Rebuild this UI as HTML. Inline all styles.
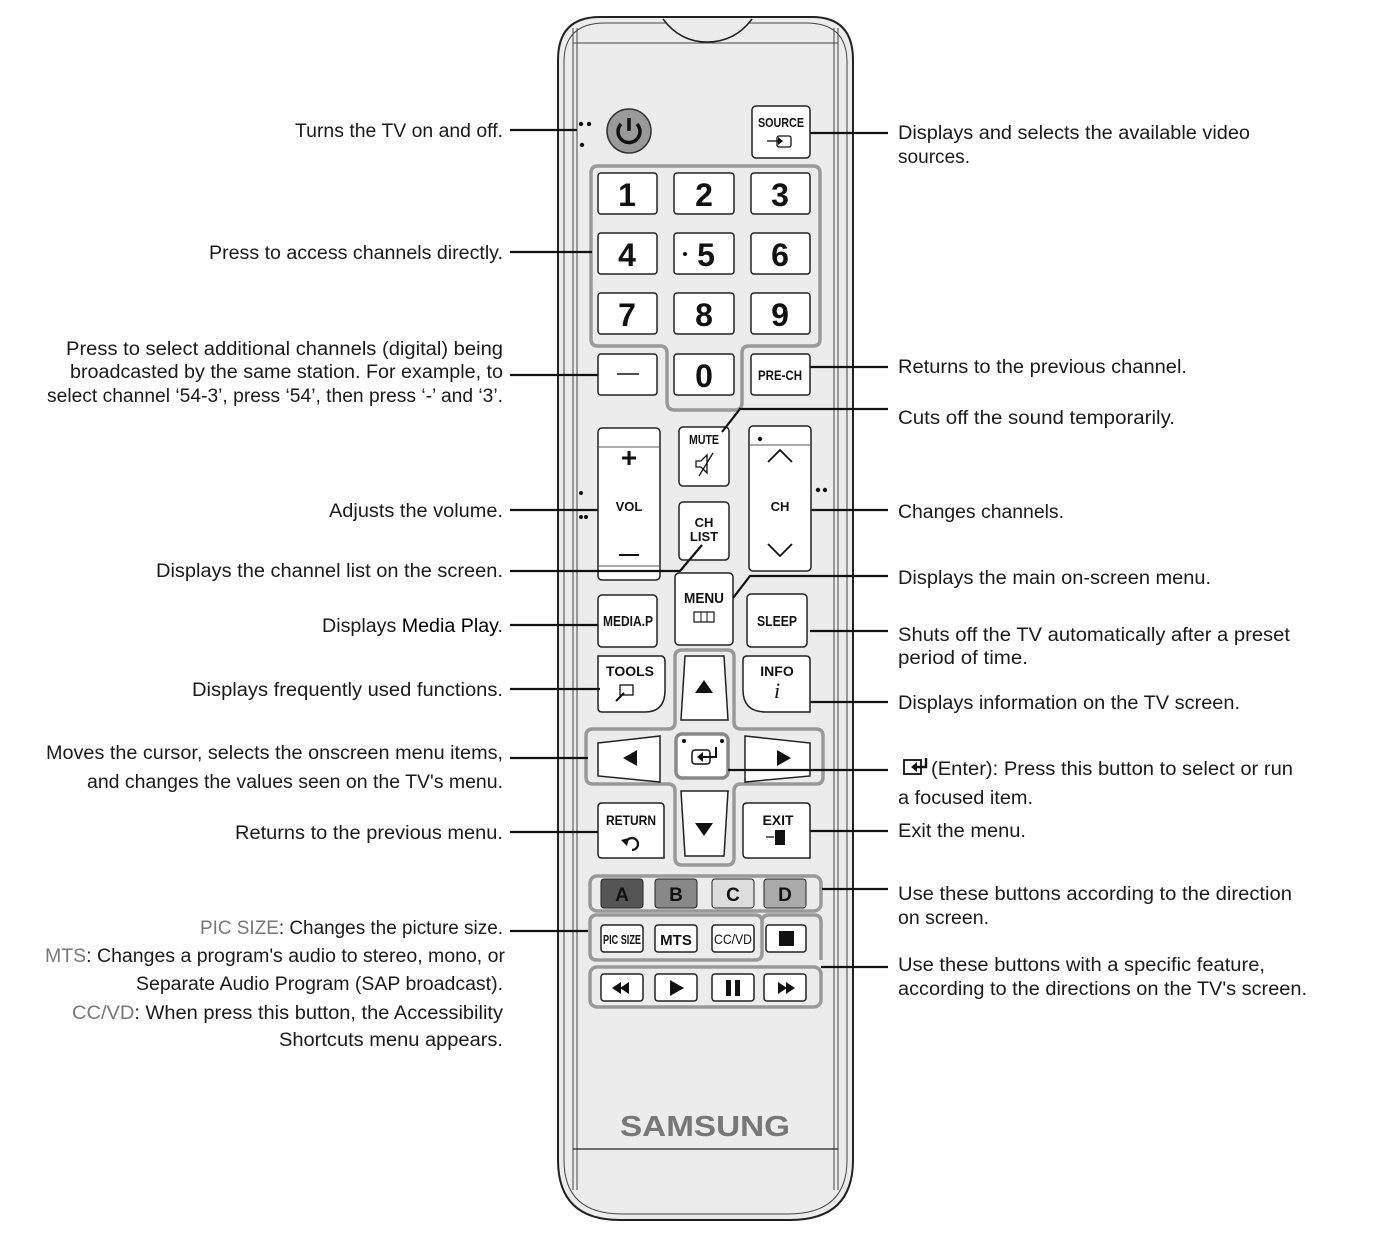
<!DOCTYPE html>
<html><head><meta charset="utf-8"><style>
html,body{margin:0;padding:0;background:#fff;width:1390px;height:1244px;overflow:hidden}
svg{display:block}
.t{font-family:"Liberation Sans",sans-serif;font-size:19px;fill:#1a1a1a}
.g{fill:#777}
.b{font-family:"Liberation Sans",sans-serif;font-weight:bold;fill:#111;text-anchor:middle}
.btn{fill:#fff;stroke:#222;stroke-width:1.5}
.grp{fill:none;stroke:#999;stroke-width:3.5}
.ln{stroke:#111;stroke-width:2.2;fill:none}
</style></head><body>
<svg width="1390" height="1244" viewBox="0 0 1390 1244" xmlns="http://www.w3.org/2000/svg">
<!-- remote body -->
<path d="M600 17 H812 Q853 17 853 60 V1160 Q853 1220 790 1220 H620 Q558 1220 558 1160 V60 Q558 17 600 17 Z" fill="#ececec" stroke="#222" stroke-width="2"/>
<path d="M605 23 H806 Q847 23 847 62 V1160 Q847 1214 788 1214 H622 Q564 1214 564 1160 V62 Q564 23 605 23 Z" fill="none" stroke="#444" stroke-width="1"/>
<line x1="573" y1="28" x2="573" y2="1190" stroke="#444" stroke-width="1"/>
<line x1="577" y1="28" x2="577" y2="1190" stroke="#444" stroke-width="1"/>
<line x1="834" y1="28" x2="834" y2="1190" stroke="#444" stroke-width="1"/>
<line x1="838" y1="28" x2="838" y2="1190" stroke="#444" stroke-width="1"/>
<line x1="573" y1="43" x2="838" y2="43" stroke="#444" stroke-width="1"/>
<line x1="573" y1="1149" x2="838" y2="1149" stroke="#222" stroke-width="1.2"/>
<path d="M663 19 Q680 42 707 42 Q735 42 752 19" fill="#ececec" stroke="#222" stroke-width="1.5"/>

<!-- power -->
<circle cx="629" cy="131" r="22" fill="#9a9a9a" stroke="#333" stroke-width="1.5"/>
<path d="M621 124 A11 11 0 1 0 637 124" fill="none" stroke="#111" stroke-width="3.5"/>
<line x1="629" y1="118" x2="629" y2="131" stroke="#111" stroke-width="3.5"/>
<circle cx="581" cy="124" r="2.2" fill="#111"/><circle cx="589" cy="124" r="2.2" fill="#111"/><circle cx="582" cy="145" r="2.2" fill="#111"/>
<!-- source -->
<rect class="btn" x="752" y="106" width="58" height="52" rx="4"/>
<text class="b" x="781" y="127" font-size="13" textLength="46" lengthAdjust="spacingAndGlyphs">SOURCE</text>
<rect x="777" y="136" width="14" height="11" rx="2" fill="none" stroke="#111" stroke-width="1.3"/>
<line x1="767" y1="141" x2="782" y2="141" stroke="#111" stroke-width="1.3"/><path d="M778 137 L783 141 L778 145Z" fill="#111"/>

<!-- number group -->
<path class="grp" d="M598 166 H813 Q820 166 820 173 V339 Q820 346 813 346 H749 Q742 346 742 353 V402 Q742 410 735 410 H675 Q667 410 667 402 V353 Q667 346 660 346 H598 Q591 346 591 339 V173 Q591 166 598 166 Z"/>
<g font-size="32">
<rect class="btn" x="598" y="173" width="59" height="41" rx="3"/><text class="b" x="627" y="206">1</text>
<rect class="btn" x="674" y="173" width="60" height="41" rx="3"/><text class="b" x="704" y="206">2</text>
<rect class="btn" x="751" y="173" width="59" height="41" rx="3"/><text class="b" x="780" y="206">3</text>
<rect class="btn" x="598" y="233" width="59" height="41" rx="3"/><text class="b" x="627" y="266">4</text>
<rect class="btn" x="674" y="233" width="60" height="41" rx="3"/><text class="b" x="706" y="266">5</text><circle cx="685" cy="254" r="2" fill="#111"/>
<rect class="btn" x="751" y="233" width="59" height="41" rx="3"/><text class="b" x="780" y="266">6</text>
<rect class="btn" x="598" y="293" width="59" height="41" rx="3"/><text class="b" x="627" y="326">7</text>
<rect class="btn" x="674" y="293" width="60" height="41" rx="3"/><text class="b" x="704" y="326">8</text>
<rect class="btn" x="751" y="293" width="59" height="41" rx="3"/><text class="b" x="780" y="326">9</text>
<rect class="btn" x="598" y="354" width="59" height="41" rx="3"/><line x1="617" y1="374" x2="639" y2="374" stroke="#111" stroke-width="1.5"/>
<rect class="btn" x="674" y="354" width="60" height="41" rx="3"/><text class="b" x="704" y="387">0</text>
<rect class="btn" x="751" y="354" width="59" height="41" rx="3"/><text class="b" x="780" y="380" font-size="14" textLength="44" lengthAdjust="spacingAndGlyphs">PRE-CH</text>
</g>

<!-- VOL / MUTE / CH LIST / CH -->
<rect class="btn" x="598" y="428" width="62" height="152" rx="4"/>
<line x1="598" y1="447" x2="660" y2="447" stroke="#555" stroke-width="1"/>
<line x1="598" y1="566" x2="660" y2="566" stroke="#555" stroke-width="1"/>
<text class="b" x="629" y="467" font-size="28" font-weight="normal">+</text>
<line x1="619" y1="555" x2="639" y2="555" stroke="#111" stroke-width="2"/>
<text class="b" x="629" y="511" font-size="13">VOL</text>
<circle cx="581" cy="493" r="2" fill="#111"/><circle cx="581" cy="517" r="2" fill="#111"/><circle cx="586" cy="517" r="2" fill="#111"/>
<rect class="btn" x="679" y="427" width="50" height="59" rx="4"/>
<text class="b" x="704" y="444" font-size="13" textLength="30" lengthAdjust="spacingAndGlyphs">MUTE</text>
<path d="M696 461 h5 l6 -6 v18 l-6 -6 h-5z M713 453 L699 476" fill="none" stroke="#111" stroke-width="1.3"/>
<rect class="btn" x="679" y="502" width="50" height="58" rx="4"/>
<text class="b" x="704" y="527" font-size="13">CH</text><text class="b" x="704" y="541" font-size="13">LIST</text>
<rect class="btn" x="749" y="426" width="62" height="145" rx="4"/>
<line x1="749" y1="445" x2="811" y2="445" stroke="#555" stroke-width="1"/>
<circle cx="760" cy="439" r="2.2" fill="#111"/>
<path d="M768 462 L780 450 L792 462 M768 544 L780 556 L792 544" fill="none" stroke="#111" stroke-width="1.8"/>
<text class="b" x="780" y="511" font-size="13" font-weight="normal">CH</text>
<circle cx="818" cy="490" r="2.2" fill="#111"/><circle cx="825" cy="490" r="2.2" fill="#111"/>

<!-- MENU row -->
<rect class="btn" x="675" y="573" width="58" height="72" rx="4"/>
<text class="b" x="704" y="603" font-size="15" textLength="40" lengthAdjust="spacingAndGlyphs">MENU</text>
<rect x="694" y="612" width="20" height="10" fill="none" stroke="#111" stroke-width="1.2"/><line x1="701" y1="612" x2="701" y2="622" stroke="#111"/><line x1="707" y1="612" x2="707" y2="622" stroke="#111"/>
<rect class="btn" x="598" y="595" width="59" height="52" rx="4"/>
<text class="b" x="628" y="626" font-size="15" textLength="50" lengthAdjust="spacingAndGlyphs">MEDIA.P</text>
<rect class="btn" x="747" y="594" width="60" height="53" rx="4"/>
<text class="b" x="777" y="626" font-size="15" textLength="40" lengthAdjust="spacingAndGlyphs">SLEEP</text>

<!-- D-pad group -->
<path class="grp" d="M682 650 H727 Q734 650 734 657 V722 Q734 729 741 729 H816 Q823 729 823 736 V777 Q823 784 816 784 H741 Q734 784 734 791 V858 Q734 865 727 865 H682 Q675 865 675 858 V791 Q675 784 668 784 H593 Q586 784 586 777 V736 Q586 729 593 729 H668 Q675 729 675 722 V657 Q675 650 682 650Z"/>
<path class="btn" d="M598 656 H661 Q665 656 665 662 V690 Q665 712 645 712 H602 Q598 712 598 708Z"/>
<text class="b" x="630" y="676" font-size="14">TOOLS</text>
<rect x="620" y="685" width="13" height="10" fill="none" stroke="#111" stroke-width="1.3"/><path d="M616 701 L624 693" stroke="#111" stroke-width="2"/>
<path class="btn" d="M747 656 H806 Q810 656 810 660 V712 H766 Q743 712 743 690 V660 Q743 656 747 656Z"/>
<text class="b" x="777" y="676" font-size="14">INFO</text>
<text x="777" y="698" font-family="Liberation Serif,serif" font-style="italic" font-size="22" text-anchor="middle" fill="#111">i</text>
<path class="btn" d="M685 656 H724 L728 720 H681 Z"/><path d="M695 693 L704 680 L713 693Z" fill="#111"/>
<path class="btn" d="M598 743 L660 736 V782 L598 776 Z"/><path d="M623 758 L637 750 V766Z" fill="#111"/>
<path class="btn" d="M745 736 L810 743 V776 L745 782 Z"/><path d="M791 758 L777 750 V766Z" fill="#111"/>
<rect x="676" y="734" width="52" height="44" rx="6" fill="#fff" stroke="#888" stroke-width="3.5"/>
<circle cx="684" cy="741" r="2" fill="#111"/><circle cx="722" cy="741" r="2" fill="#111"/>
<rect x="692" y="750" width="18" height="14" rx="3" fill="none" stroke="#111" stroke-width="1.5"/>
<path d="M716 747 V757 H700" fill="none" stroke="#111" stroke-width="2"/><path d="M697 757 L703 752 V762Z" fill="#111"/>
<path class="btn" d="M681 791 H728 L724 856 H685 Z"/><path d="M695 823 L704 836 L713 823Z" fill="#111"/>
<path class="btn" d="M602 803 H660 Q664 803 664 807 V858 H602 Q598 858 598 854 V807 Q598 803 602 803Z"/>
<text class="b" x="631" y="825" font-size="14" textLength="50" lengthAdjust="spacingAndGlyphs">RETURN</text>
<path d="M626 844 A6 6 0 1 1 632 850" fill="none" stroke="#111" stroke-width="2.2"/><path d="M621 840 L627 846 L629 838Z" fill="#111"/>
<path class="btn" d="M747 803 H806 Q810 803 810 807 V858 H747 Q743 858 743 854 V807 Q743 803 747 803Z"/>
<text class="b" x="778" y="825" font-size="14">EXIT</text>
<rect x="775" y="830" width="10" height="15" fill="#111"/><line x1="766" y1="837" x2="774" y2="837" stroke="#111" stroke-width="1.3"/>

<!-- ABCD -->
<rect class="grp" x="590" y="876" width="231" height="35" rx="7"/>
<rect x="601" y="879" width="42" height="29" rx="3" fill="#555" stroke="#222"/><text class="b" x="622" y="901" font-size="19">A</text>
<rect x="655" y="879" width="42" height="29" rx="3" fill="#888" stroke="#222"/><text class="b" x="676" y="901" font-size="19">B</text>
<rect x="712" y="879" width="42" height="29" rx="3" fill="#ddd" stroke="#222"/><text class="b" x="733" y="901" font-size="19">C</text>
<rect x="764" y="879" width="42" height="29" rx="3" fill="#aaa" stroke="#222"/><text class="b" x="785" y="901" font-size="19">D</text>
<!-- pic group -->
<path class="grp" d="M597 915 H755 Q762 915 762 922 V953 Q762 960 755 960 H597 Q590 960 590 953 V922 Q590 915 597 915Z"/>
<path class="grp" d="M762 922 Q762 915 769 915 H814 Q821 915 821 922 V960"/>
<rect class="btn" x="601" y="925" width="42" height="27" rx="3"/><text class="b" x="622" y="944" font-size="13" textLength="38" lengthAdjust="spacingAndGlyphs">PIC SIZE</text>
<rect class="btn" x="655" y="925" width="42" height="27" rx="3"/><text class="b" x="676" y="945" font-size="15">MTS</text>
<rect class="btn" x="712" y="925" width="42" height="27" rx="3"/><text x="733" y="944" font-family="Liberation Sans,sans-serif" font-size="14" text-anchor="middle" textLength="38" lengthAdjust="spacingAndGlyphs" fill="#111">CC/VD</text>
<rect class="btn" x="766" y="925" width="40" height="27" rx="3"/><rect x="779" y="931" width="15" height="15" fill="#111"/>
<rect class="grp" x="590" y="967" width="231" height="40" rx="7"/>
<rect class="btn" x="601" y="974" width="42" height="27" rx="3"/><path d="M612 988 L621 982 V994Z M620 988 L629 982 V994Z" fill="#111"/>
<rect class="btn" x="655" y="974" width="42" height="27" rx="3"/><path d="M670 980 L684 988 L670 996Z" fill="#111"/>
<rect class="btn" x="712" y="974" width="42" height="27" rx="3"/><rect x="726" y="980" width="5" height="16" fill="#111"/><rect x="735" y="980" width="5" height="16" fill="#111"/>
<rect class="btn" x="764" y="974" width="42" height="27" rx="3"/><path d="M778 982 L787 988 L778 994Z M786 982 L795 988 L786 994Z" fill="#111"/>

<text x="705" y="1136" font-family="Liberation Sans,sans-serif" font-weight="bold" font-size="29" fill="#777" text-anchor="middle" textLength="170" lengthAdjust="spacingAndGlyphs">SAMSUNG</text>

<!-- connector lines -->
<g class="ln">
<line x1="510" y1="130" x2="577" y2="130"/>
<line x1="510" y1="252" x2="592" y2="252"/>
<line x1="510" y1="375" x2="598" y2="375"/>
<line x1="510" y1="510" x2="598" y2="510"/>
<polyline points="510,571 680,571 702,545"/>
<line x1="510" y1="625" x2="598" y2="625"/>
<line x1="510" y1="689" x2="600" y2="689"/>
<line x1="510" y1="758" x2="588" y2="758"/>
<line x1="510" y1="832" x2="598" y2="832"/>
<line x1="510" y1="931" x2="588" y2="931"/>
<line x1="810" y1="133" x2="888" y2="133"/>
<line x1="810" y1="367" x2="888" y2="367"/>
<polyline points="888,409 740,409 722,432"/>
<line x1="811" y1="510" x2="888" y2="510"/>
<polyline points="888,576 750,576 733,598"/>
<line x1="810" y1="631" x2="888" y2="631"/>
<line x1="810" y1="702" x2="888" y2="702"/>
<line x1="728" y1="770" x2="888" y2="770"/>
<line x1="810" y1="831" x2="888" y2="831"/>
<line x1="822" y1="889" x2="888" y2="889"/>
<line x1="821" y1="967" x2="888" y2="967"/>
</g>

<!-- left labels -->
<g class="t" text-anchor="end">
<text x="503" y="137" textLength="208" lengthAdjust="spacingAndGlyphs">Turns the TV on and off.</text>
<text x="503" y="259" textLength="294" lengthAdjust="spacingAndGlyphs">Press to access channels directly.</text>
<text x="503" y="355" textLength="437" lengthAdjust="spacingAndGlyphs">Press to select additional channels (digital) being</text>
<text x="503" y="378" textLength="433" lengthAdjust="spacingAndGlyphs">broadcasted by the same station. For example, to</text>
<text x="503" y="402" textLength="456" lengthAdjust="spacingAndGlyphs">select channel ‘54-3’, press ‘54’, then press ‘-’ and ‘3’.</text>
<text x="503" y="517" textLength="174" lengthAdjust="spacingAndGlyphs">Adjusts the volume.</text>
<text x="503" y="577" textLength="347" lengthAdjust="spacingAndGlyphs">Displays the channel list on the screen.</text>
<text x="503" y="632" textLength="181" lengthAdjust="spacingAndGlyphs">Displays <tspan fill="#000">Media Play</tspan>.</text>
<text x="503" y="696" textLength="311" lengthAdjust="spacingAndGlyphs">Displays frequently used functions.</text>
<text x="503" y="759" textLength="457" lengthAdjust="spacingAndGlyphs">Moves the cursor, selects the onscreen menu items,</text>
<text x="503" y="788" textLength="416" lengthAdjust="spacingAndGlyphs">and changes the values seen on the TV's menu.</text>
<text x="503" y="839" textLength="268" lengthAdjust="spacingAndGlyphs">Returns to the previous menu.</text>
<text x="503" y="934" textLength="303" lengthAdjust="spacingAndGlyphs"><tspan class="g">PIC SIZE</tspan>: Changes the picture size.</text>
<text x="505" y="962" textLength="460" lengthAdjust="spacingAndGlyphs"><tspan class="g">MTS</tspan>: Changes a program's audio to stereo, mono, or</text>
<text x="503" y="990" textLength="367" lengthAdjust="spacingAndGlyphs">Separate Audio Program (SAP broadcast).</text>
<text x="503" y="1019" textLength="431" lengthAdjust="spacingAndGlyphs"><tspan class="g">CC/VD</tspan>: When press this button, the Accessibility</text>
<text x="503" y="1046" textLength="224" lengthAdjust="spacingAndGlyphs">Shortcuts menu appears.</text>
</g>
<!-- right labels -->
<g class="t">
<text x="898" y="139" textLength="352" lengthAdjust="spacingAndGlyphs">Displays and selects the available video</text>
<text x="898" y="163" textLength="72" lengthAdjust="spacingAndGlyphs">sources.</text>
<text x="898" y="373" textLength="289" lengthAdjust="spacingAndGlyphs">Returns to the previous channel.</text>
<text x="898" y="424" textLength="277" lengthAdjust="spacingAndGlyphs">Cuts off the sound temporarily.</text>
<text x="898" y="518" textLength="166" lengthAdjust="spacingAndGlyphs">Changes channels.</text>
<text x="898" y="584" textLength="313" lengthAdjust="spacingAndGlyphs">Displays the main on-screen menu.</text>
<text x="898" y="641" textLength="392" lengthAdjust="spacingAndGlyphs">Shuts off the TV automatically after a preset</text>
<text x="898" y="664" textLength="130" lengthAdjust="spacingAndGlyphs">period of time.</text>
<text x="898" y="709" textLength="342" lengthAdjust="spacingAndGlyphs">Displays information on the TV screen.</text>
<text x="931" y="775" textLength="362" lengthAdjust="spacingAndGlyphs">(Enter): Press this button to select or run</text>
<text x="898" y="804" textLength="135" lengthAdjust="spacingAndGlyphs">a focused item.</text>
<text x="898" y="837" textLength="128" lengthAdjust="spacingAndGlyphs">Exit the menu.</text>
<text x="898" y="900" textLength="394" lengthAdjust="spacingAndGlyphs">Use these buttons according to the direction</text>
<text x="898" y="924" textLength="91" lengthAdjust="spacingAndGlyphs">on screen.</text>
<text x="898" y="971" textLength="367" lengthAdjust="spacingAndGlyphs">Use these buttons with a specific feature,</text>
<text x="898" y="995" textLength="409" lengthAdjust="spacingAndGlyphs">according to the directions on the TV's screen.</text>
</g>
<!-- enter icon in text -->
<rect x="904" y="760" width="17" height="14" fill="none" stroke="#111" stroke-width="1.8"/>
<path d="M926 758 V767 H915" fill="none" stroke="#111" stroke-width="2.4"/><path d="M911 767 L917 762 V772Z" fill="#111"/>
</svg>
</body></html>
